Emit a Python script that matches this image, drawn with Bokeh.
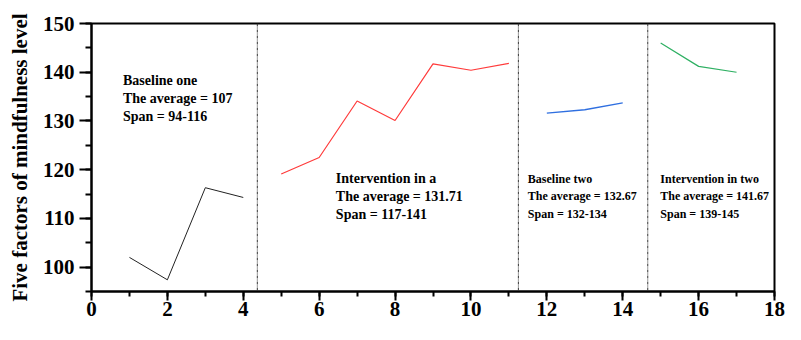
from bokeh.plotting import figure
from bokeh.models import SingleIntervalTicker, Span, Range1d
from bokeh.core.properties import value
from bokeh.embed import file_html
from bokeh.resources import INLINE

# ---- data ----
base1_x = [1, 2, 3, 4]
base1_y = [102.0, 97.4, 116.3, 114.3]
int1_x = [5, 6, 7, 8, 9, 10, 11]
int1_y = [119.1, 122.5, 134.1, 130.1, 141.7, 140.4, 141.8]
base2_x = [12, 13, 14]
base2_y = [131.6, 132.3, 133.7]
int2_x = [15, 16, 17]
int2_y = [146.0, 141.2, 140.0]

phase_breaks = [4.37, 11.25, 14.66]

ann_titles = ["Baseline one", "Intervention in a", "Baseline two", "Intervention in two"]
ann_avgs = ["107", "131.71", "132.67", "141.67"]
ann_spans = ["94-116", "117-141", "132-134", "139-145"]
ann_x = [0.83, 6.44, 11.5, 14.99]
ann_y = [138.2, 118.1, 118.1, 118.1]

y_label = "Five factors of mindfulness level"

# ---- styles ----
FONT = "Liberation Serif"
ann_font_sizes = ["14px", "14px", "12px", "12px"]
line_gap = 3.6

p = figure(width=785, height=324, x_range=Range1d(0, 18), y_range=Range1d(95, 150),
           output_backend="svg", toolbar_location=None,
           min_border_left=91, min_border_right=11, min_border_top=23, min_border_bottom=33)
p.background_fill_color = "white"
p.border_fill_color = "white"
p.xgrid.visible = False
p.ygrid.visible = False
p.outline_line_color = "black"
p.outline_line_width = 2
p.outline_line_alpha = 1

p.xaxis.ticker = SingleIntervalTicker(interval=2, num_minor_ticks=2)
p.yaxis.ticker = SingleIntervalTicker(interval=10, num_minor_ticks=2)

for ax in (p.xaxis, p.yaxis):
    ax.axis_line_width = 2
    ax.axis_line_color = "black"
    ax.major_tick_line_width = 2
    ax.minor_tick_line_width = 2
    ax.major_tick_line_color = "black"
    ax.minor_tick_line_color = "black"
    ax.major_tick_in = 0
    ax.minor_tick_in = 0
    ax.major_label_text_font = FONT
    ax.major_label_text_font_style = "bold"
    ax.major_label_text_color = "black"

p.xaxis.major_label_text_font_size = "21px"
p.yaxis.major_label_text_font_size = "21px"
p.xaxis.major_tick_out = 9
p.xaxis.minor_tick_out = 5
p.xaxis.major_label_standoff = 1
p.yaxis.major_tick_out = 12
p.yaxis.minor_tick_out = 6
p.yaxis.major_label_standoff = 5

p.yaxis.axis_label = y_label
p.yaxis.axis_label_text_font = FONT
p.yaxis.axis_label_text_font_style = "bold"
p.yaxis.axis_label_text_font_size = "21px"
p.yaxis.axis_label_text_color = "black"
p.yaxis.axis_label_standoff = 8

p.line(base1_x, base1_y, line_color="#222222", line_width=1)
p.line(int1_x, int1_y, line_color="#ff3b3b", line_width=1.2)
p.line(base2_x, base2_y, line_color="#2f6fe0", line_width=1.4)
p.line(int2_x, int2_y, line_color="#2fb063", line_width=1.2)

for loc in phase_breaks:
    p.add_layout(Span(location=loc, dimension="height", line_color="#333333",
                      line_width=1, line_dash="3 1 1 1"))

for x, y, t, a, s, fs in zip(ann_x, ann_y, ann_titles, ann_avgs, ann_spans, ann_font_sizes):
    lines = [t, "The average = " + a, "Span = " + s]
    p.text(x=[x] * 3, y=[y - i * line_gap for i in range(3)], text=lines,
           text_font=value(FONT), text_font_style="bold", text_font_size=fs,
           text_color="black", text_align="left", text_baseline="middle")

open("out.html", "w").write(file_html(p, INLINE))
